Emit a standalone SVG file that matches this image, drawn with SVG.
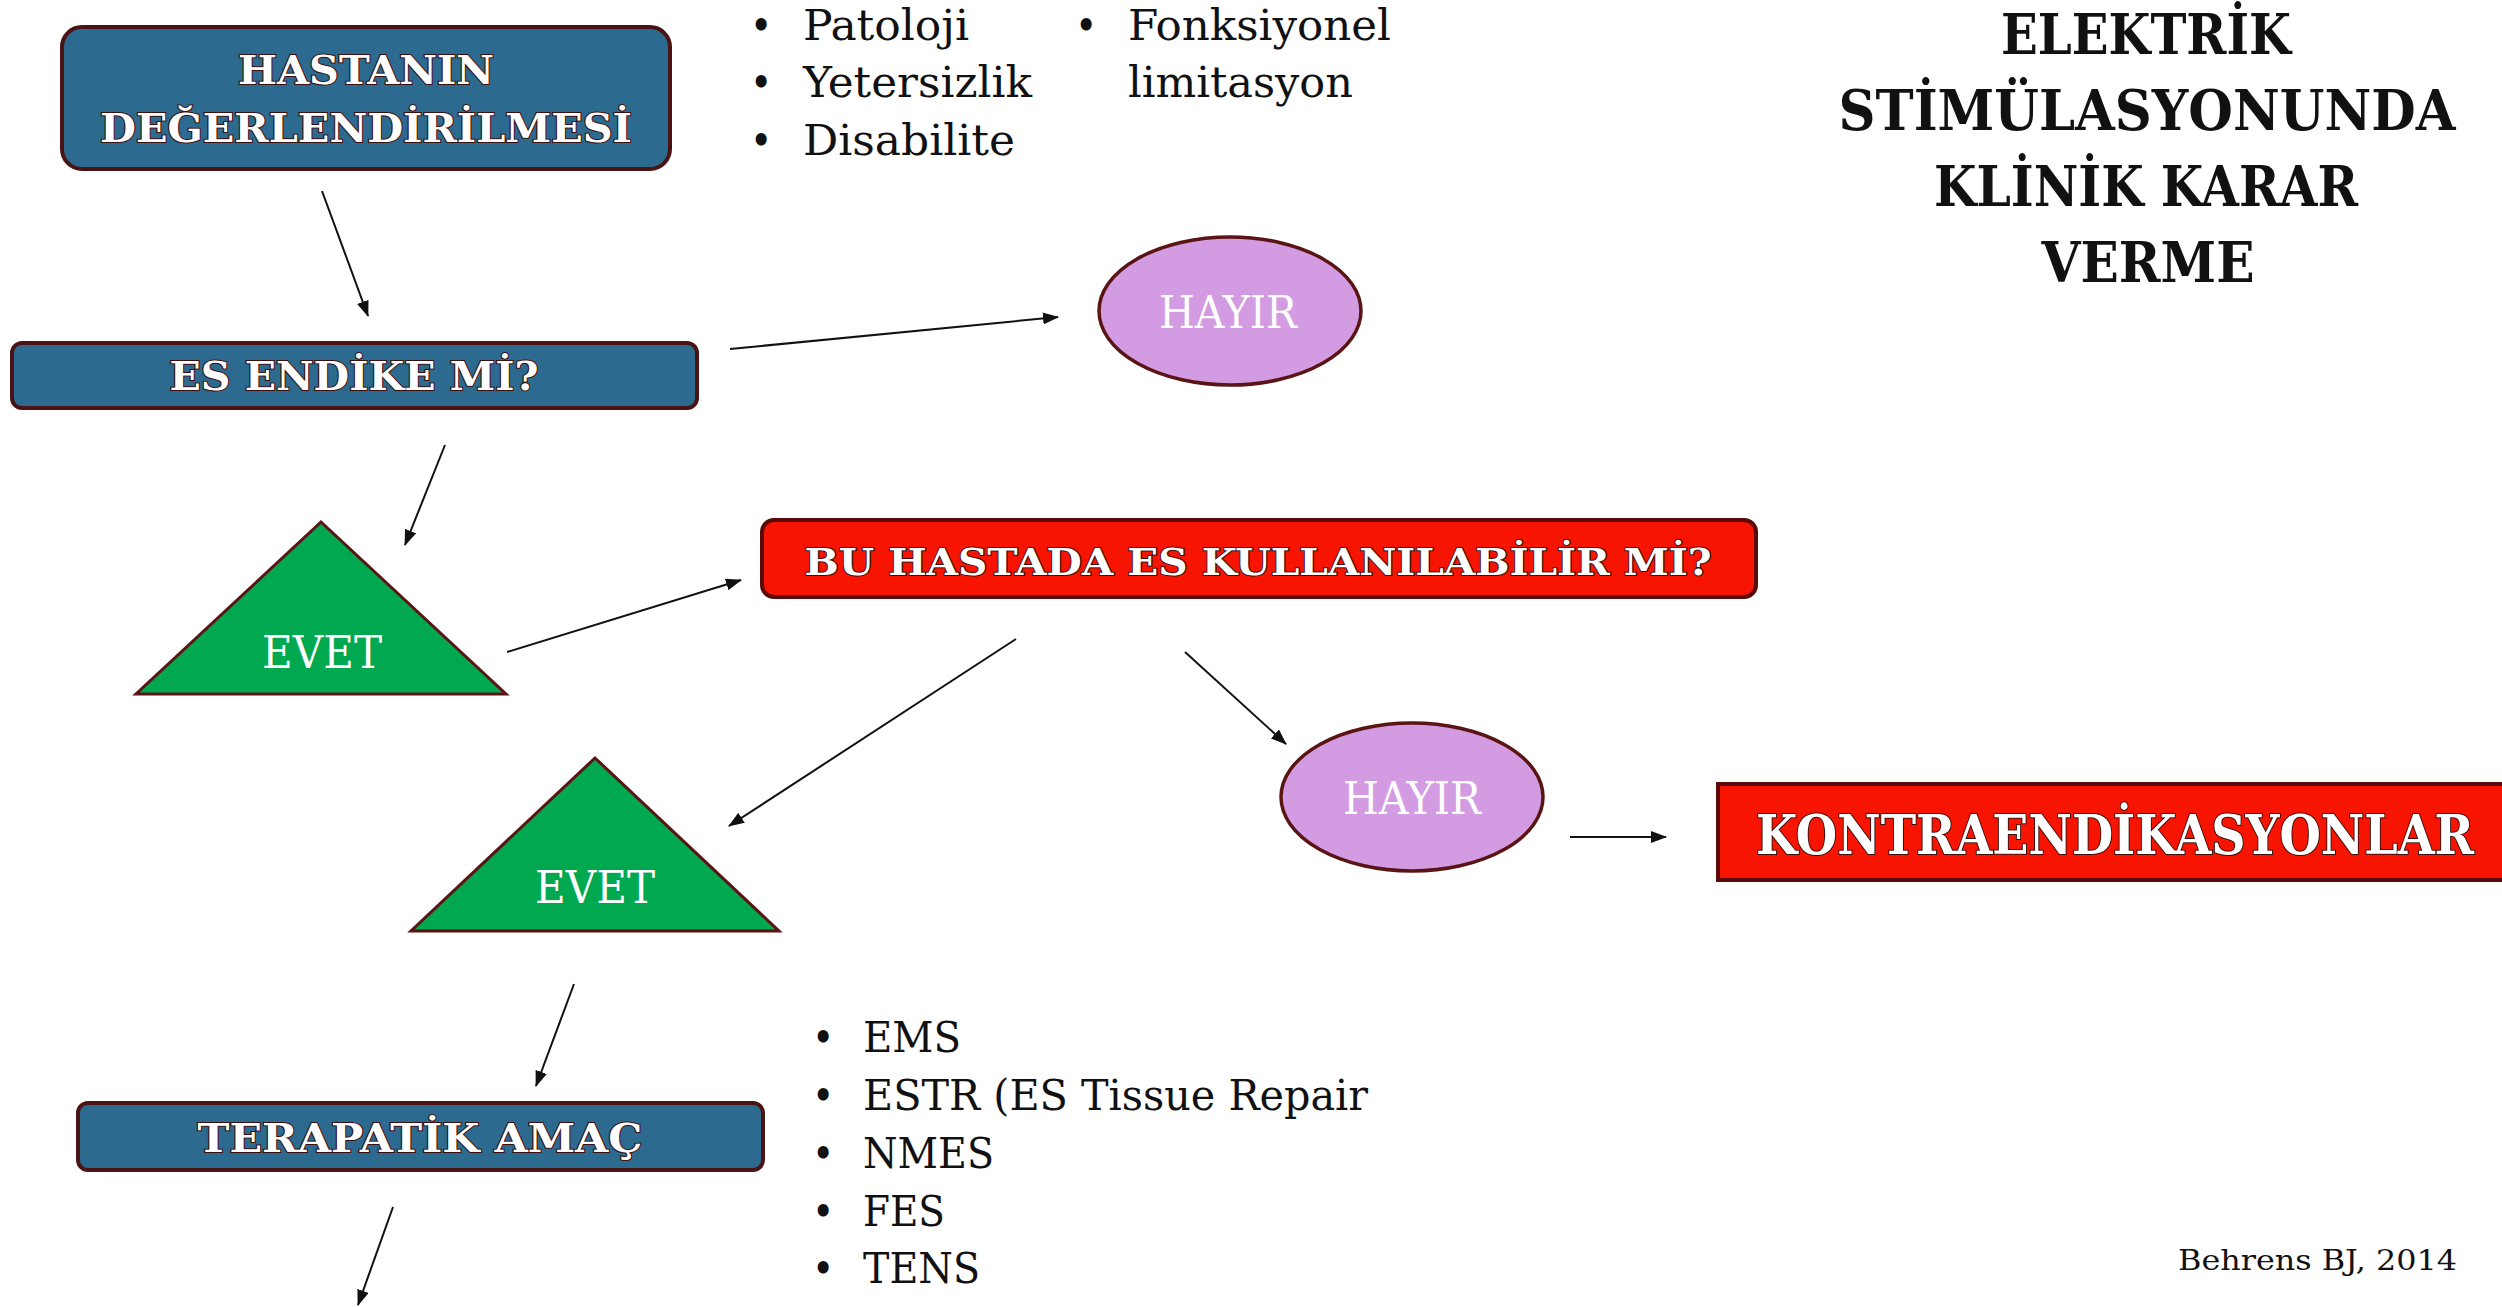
<svg xmlns="http://www.w3.org/2000/svg" width="2502" height="1307" viewBox="0 0 2502 1307">
<defs>
<style>
.blue{fill:#2D6A8F;stroke:#4A1414;stroke-width:4}
.red{fill:#F71400;stroke:#5A0A0A;stroke-width:4}
.green{fill:#00A850;stroke:#5A1414;stroke-width:3;stroke-linejoin:miter}
.lav{fill:#D29BE2;stroke:#5A1414;stroke-width:3.5}
.lbl{font-family:"DejaVu Serif Condensed","DejaVu Serif","Liberation Serif",serif;font-weight:bold;fill:#FFFFFF;stroke:#3A1010;stroke-width:2;paint-order:stroke;text-anchor:middle}
.lt{font-family:"DejaVu Serif Condensed","DejaVu Serif","Liberation Serif",serif;fill:#FFFFFF;text-anchor:middle}
.body{font-family:"DejaVu Serif Condensed","DejaVu Serif","Liberation Serif",serif;fill:#111111}
.title{font-family:"DejaVu Serif Condensed","DejaVu Serif","Liberation Serif",serif;font-weight:bold;fill:#111111;text-anchor:middle}
.conn{stroke:#111111;stroke-width:2;fill:none;marker-end:url(#ah)}
</style>
<marker id="ah" markerUnits="userSpaceOnUse" markerWidth="16" markerHeight="12" refX="15" refY="6" orient="auto">
<path d="M0,0 L16,6 L0,12 z" fill="#111111"/>
</marker>
</defs>
<rect x="0" y="0" width="2502" height="1307" fill="#FFFFFF"/>

<g id="title">
<text class="title" x="2146" y="54" font-size="56" textLength="290" lengthAdjust="spacingAndGlyphs">ELEKTRİK</text>
<text class="title" x="2147" y="130" font-size="56" textLength="617" lengthAdjust="spacingAndGlyphs">STİMÜLASYONUNDA</text>
<text class="title" x="2146" y="206" font-size="56" textLength="424" lengthAdjust="spacingAndGlyphs">KLİNİK KARAR</text>
<text class="title" x="2148" y="282" font-size="56" textLength="213" lengthAdjust="spacingAndGlyphs">VERME</text>
</g>

<g id="connectors">
<line class="conn" x1="322" y1="191" x2="368" y2="316"/>
<line class="conn" x1="730" y1="349" x2="1058" y2="317"/>
<line class="conn" x1="445" y1="445" x2="405" y2="545"/>
<line class="conn" x1="507" y1="652" x2="741" y2="580"/>
<line class="conn" x1="1016" y1="639" x2="729" y2="826"/>
<line class="conn" x1="1185" y1="652" x2="1286" y2="744"/>
<line class="conn" x1="1570" y1="837" x2="1666" y2="837"/>
<line class="conn" x1="574" y1="984" x2="536" y2="1086"/>
<line class="conn" x1="393" y1="1207" x2="358" y2="1305"/>
</g>

<g id="node-hastanin">
<rect class="blue" x="62" y="27" width="608" height="142" rx="20"/>
<text class="lbl" x="366" y="84" font-size="40" textLength="256" lengthAdjust="spacingAndGlyphs">HASTANIN</text>
<text class="lbl" x="366" y="142" font-size="40" textLength="532" lengthAdjust="spacingAndGlyphs">DEĞERLENDİRİLMESİ</text>
</g>

<g id="list-top">
<text class="body" x="750" y="40" font-size="42">•</text>
<text class="body" x="803" y="40" font-size="42" textLength="166" lengthAdjust="spacingAndGlyphs">Patoloji</text>
<text class="body" x="750" y="97" font-size="42">•</text>
<text class="body" x="803" y="97" font-size="42" textLength="229" lengthAdjust="spacingAndGlyphs">Yetersizlik</text>
<text class="body" x="750" y="155" font-size="42">•</text>
<text class="body" x="803" y="155" font-size="42" textLength="212" lengthAdjust="spacingAndGlyphs">Disabilite</text>
<text class="body" x="1075" y="40" font-size="42">•</text>
<text class="body" x="1128" y="40" font-size="42" textLength="263" lengthAdjust="spacingAndGlyphs">Fonksiyonel</text>
<text class="body" x="1128" y="97" font-size="42" textLength="225" lengthAdjust="spacingAndGlyphs">limitasyon</text>
</g>

<g id="node-es-endike">
<rect class="blue" x="12" y="343" width="685" height="65" rx="10"/>
<text class="lbl" x="354" y="390" font-size="40" textLength="369" lengthAdjust="spacingAndGlyphs">ES ENDİKE Mİ?</text>
</g>

<g id="node-hayir1">
<ellipse class="lav" cx="1230" cy="311" rx="131" ry="74"/>
<text class="lt" x="1228" y="328" font-size="44" textLength="138" lengthAdjust="spacingAndGlyphs">HAYIR</text>
</g>

<g id="node-evet1">
<polygon class="green" points="321,522 506,694 136,694"/>
<text class="lt" x="322" y="668" font-size="44" textLength="120" lengthAdjust="spacingAndGlyphs">EVET</text>
</g>

<g id="node-bu-hastada">
<rect class="red" x="762" y="520" width="994" height="77" rx="12"/>
<text class="lbl" x="1258" y="575" font-size="38" textLength="907" lengthAdjust="spacingAndGlyphs">BU HASTADA ES KULLANILABİLİR Mİ?</text>
</g>

<g id="node-evet2">
<polygon class="green" points="595,758 779,931 411,931"/>
<text class="lt" x="595" y="903" font-size="44" textLength="120" lengthAdjust="spacingAndGlyphs">EVET</text>
</g>

<g id="node-hayir2">
<ellipse class="lav" cx="1412" cy="797" rx="131" ry="74"/>
<text class="lt" x="1412" y="814" font-size="44" textLength="138" lengthAdjust="spacingAndGlyphs">HAYIR</text>
</g>

<g id="node-kontra">
<rect x="1718" y="784" width="784" height="96" fill="#F71400"/>
<path d="M2502,784 L1718,784 L1718,880 L2502,880" fill="none" stroke="#5A0A0A" stroke-width="4"/>
<text class="lbl" x="2115" y="854" font-size="55" textLength="718" lengthAdjust="spacingAndGlyphs">KONTRAENDİKASYONLAR</text>
</g>

<g id="node-terapatik">
<rect class="blue" x="78" y="1103" width="685" height="67" rx="10"/>
<text class="lbl" x="420" y="1152" font-size="40" textLength="445" lengthAdjust="spacingAndGlyphs">TERAPATİK AMAÇ</text>
</g>

<g id="list-bottom">
<text class="body" x="812" y="1052" font-size="42">•</text>
<text class="body" x="863" y="1052" font-size="42" textLength="98" lengthAdjust="spacingAndGlyphs">EMS</text>
<text class="body" x="812" y="1110" font-size="42">•</text>
<text class="body" x="863" y="1110" font-size="42" textLength="505" lengthAdjust="spacingAndGlyphs">ESTR (ES Tissue Repair</text>
<text class="body" x="812" y="1168" font-size="42">•</text>
<text class="body" x="863" y="1168" font-size="42" textLength="131" lengthAdjust="spacingAndGlyphs">NMES</text>
<text class="body" x="812" y="1226" font-size="42">•</text>
<text class="body" x="863" y="1226" font-size="42" textLength="82" lengthAdjust="spacingAndGlyphs">FES</text>
<text class="body" x="812" y="1283" font-size="42">•</text>
<text class="body" x="863" y="1283" font-size="42" textLength="117" lengthAdjust="spacingAndGlyphs">TENS</text>
</g>

<g id="citation">
<text class="body" x="2178" y="1270" font-size="28" textLength="279" lengthAdjust="spacingAndGlyphs">Behrens BJ, 2014</text>
</g>
</svg>
